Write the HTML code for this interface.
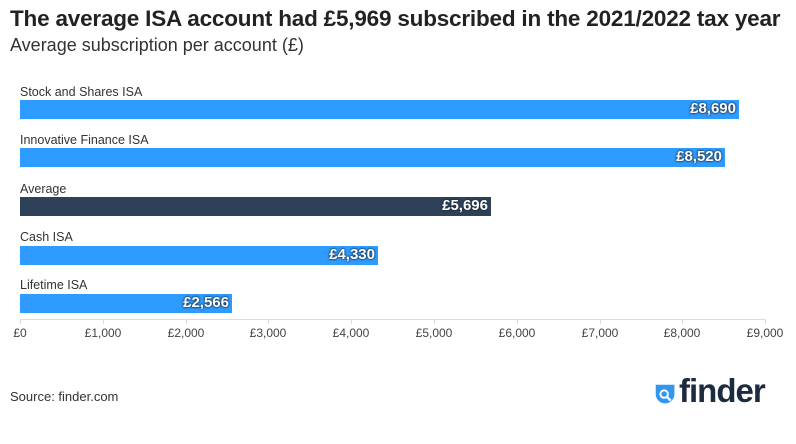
<!DOCTYPE html>
<html><head><style>
body{margin:0;background:#fff;width:796px;height:444px;overflow:hidden;font-family:"Liberation Sans",sans-serif;color:#333;position:relative}
.t{position:absolute;left:10px;top:6px;font-size:22.5px;font-weight:bold;color:#222;letter-spacing:-0.2px;white-space:nowrap}
.s{position:absolute;left:10px;top:35px;font-size:18px;color:#333}
.lab{position:absolute;left:20px;font-size:12.5px;color:#333}
.bar{position:absolute;left:20px;height:19px;background:#2e9bfe}
.v{position:absolute;right:3px;top:0px;font-size:15px;font-weight:bold;color:#fff;text-shadow:0 0 2px #1d2b3c,0 0 2px #1d2b3c}
.tick{position:absolute;top:319px;width:1px;height:5px;background:#ddd}
.tl{position:absolute;top:326px;font-size:12px;color:#444;width:60px;margin-left:-30px;text-align:center}
</style></head><body>
<div class="t">The average ISA account had £5,969 subscribed in the 2021/2022 tax year</div>
<div class="s">Average subscription per account (£)</div>
<div class="lab" style="top:85px">Stock and Shares ISA</div>
<div class="bar" style="top:100px;width:719px"><span class="v">£8,690</span></div>
<div class="lab" style="top:133px">Innovative Finance ISA</div>
<div class="bar" style="top:148px;width:705px"><span class="v">£8,520</span></div>
<div class="lab" style="top:182px">Average</div>
<div class="bar" style="top:197px;width:471px;background:#2f4159"><span class="v">£5,696</span></div>
<div class="lab" style="top:230px">Cash ISA</div>
<div class="bar" style="top:246px;width:358px"><span class="v">£4,330</span></div>
<div class="lab" style="top:278px">Lifetime ISA</div>
<div class="bar" style="top:294px;width:212px"><span class="v">£2,566</span></div>
<div style="position:absolute;left:20px;top:319px;width:745px;height:1px;background:#ddd"></div>
<div class="tick" style="left:20px"></div><div class="tl" style="left:20px">£0</div>
<div class="tick" style="left:103px"></div><div class="tl" style="left:103px">£1,000</div>
<div class="tick" style="left:186px"></div><div class="tl" style="left:186px">£2,000</div>
<div class="tick" style="left:268px"></div><div class="tl" style="left:268px">£3,000</div>
<div class="tick" style="left:351px"></div><div class="tl" style="left:351px">£4,000</div>
<div class="tick" style="left:434px"></div><div class="tl" style="left:434px">£5,000</div>
<div class="tick" style="left:517px"></div><div class="tl" style="left:517px">£6,000</div>
<div class="tick" style="left:600px"></div><div class="tl" style="left:600px">£7,000</div>
<div class="tick" style="left:682px"></div><div class="tl" style="left:682px">£8,000</div>
<div class="tick" style="left:765px"></div><div class="tl" style="left:765px">£9,000</div>
<div style="position:absolute;left:10px;top:389px;font-size:13px;color:#333">Source: finder.com</div>
<svg style="position:absolute;left:652px;top:381px" width="28" height="28" viewBox="0 0 30 30">
<path d="M4 4 H24 V14 A10 10 0 1 1 4 14 Z" fill="#3296ef"/>
<circle cx="13" cy="14" r="4" fill="none" stroke="#fff" stroke-width="2"/>
<line x1="16" y1="17" x2="20" y2="21" stroke="#fff" stroke-width="2.5"/>
</svg>
<div style="position:absolute;left:679px;top:372px;font-size:33px;font-weight:bold;color:#1d2b40;letter-spacing:-1px">finder</div>
</body></html>
